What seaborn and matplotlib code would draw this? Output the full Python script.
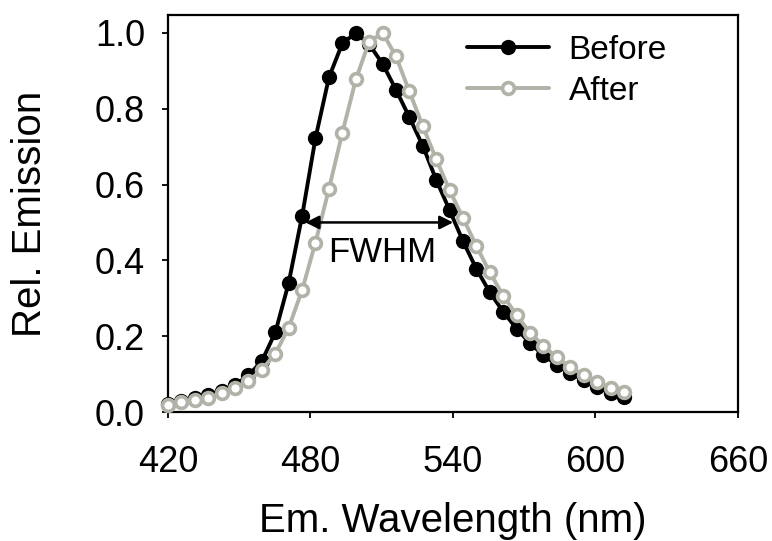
import matplotlib
matplotlib.use("Agg")
import matplotlib.pyplot as plt
import seaborn as sns
import pandas as pd

wavelength = [420.0, 425.6, 431.3, 436.9, 442.6, 448.2, 453.9, 459.5, 465.2, 470.8,
              476.5, 482.1, 487.8, 493.4, 499.1, 504.7, 510.4, 516.0, 521.6, 527.3,
              532.9, 538.6, 544.2, 549.9, 555.5, 561.2, 566.8, 572.5, 578.1, 583.8,
              589.4, 595.1, 600.7, 606.4, 612.0]
before = [0.022, 0.030, 0.037, 0.045, 0.056, 0.071, 0.097, 0.134, 0.210, 0.340,
          0.518, 0.722, 0.883, 0.972, 1.000, 0.970, 0.918, 0.850, 0.778, 0.702,
          0.613, 0.532, 0.451, 0.377, 0.316, 0.264, 0.220, 0.181, 0.150, 0.124,
          0.102, 0.084, 0.066, 0.051, 0.039]
after = [0.019, 0.026, 0.031, 0.038, 0.049, 0.063, 0.082, 0.111, 0.154, 0.222,
         0.322, 0.447, 0.589, 0.736, 0.877, 0.977, 1.000, 0.938, 0.846, 0.754,
         0.667, 0.585, 0.512, 0.438, 0.368, 0.307, 0.255, 0.209, 0.174, 0.144,
         0.118, 0.098, 0.080, 0.063, 0.052]
series_names = ["Before", "After"]
x_ticks = [420, 480, 540, 600, 660]
y_ticks = [0.0, 0.2, 0.4, 0.6, 0.8, 1.0]
fwhm_left, fwhm_right, half_max = 477.9, 540.1, 0.5
fwhm_label = "FWHM"

sns.set_style("ticks")
plt.rcParams["font.family"] = ["Liberation Sans", "DejaVu Sans"]
plt.rcParams["text.color"] = "black"
plt.rcParams["axes.labelcolor"] = "black"

df_before = pd.DataFrame({"wl": wavelength, "val": before})
df_after = pd.DataFrame({"wl": wavelength, "val": after})

fig = plt.figure(figsize=(7.72, 5.41), dpi=100)
ax = fig.add_axes([0.2176, 0.2384, 0.7383, 0.7338])

grey = "#b2b2a8"
sns.lineplot(data=df_before, x="wl", y="val", ax=ax, color="black", lw=2.8,
             marker="o", markersize=11, markeredgewidth=0, markerfacecolor="black",
             label=series_names[0], sort=False, estimator=None, clip_on=False, zorder=3)
sns.lineplot(data=df_after, x="wl", y="val", ax=ax, color=grey, lw=2.8,
             marker="o", markersize=8.5, markeredgewidth=2.6, markerfacecolor="white",
             markeredgecolor=grey, label=series_names[1], sort=False, estimator=None,
             clip_on=False, zorder=4)

ax.annotate("", xy=(fwhm_right, half_max), xytext=(fwhm_left, half_max),
            arrowprops=dict(arrowstyle="<|-|>", color="black", lw=1.8,
                            mutation_scale=20, shrinkA=0, shrinkB=0), zorder=5)
ax.text(487.5, 0.396, fwhm_label, fontsize=25, ha="left", va="baseline", zorder=6)

ax.set_xlim(420, 660)
ax.set_ylim(0, 1.047)
ax.set_xticks(x_ticks)
ax.set_yticks(y_ticks)
ax.set_yticklabels([f"{v:.1f}" for v in y_ticks])
ax.tick_params(axis="both", direction="out", length=4.5, width=1.3, labelsize=26,
               color="black", labelcolor="black")
ax.tick_params(axis="x", pad=19)
ax.tick_params(axis="y", pad=12)
for s in ax.spines.values():
    s.set_visible(True)
    s.set_linewidth(1.6)
    s.set_color("black")

ax.set_xlabel("Em. Wavelength (nm)", fontsize=29, labelpad=16)
ax.set_ylabel("Rel. Emission", fontsize=29, labelpad=33)

leg = ax.legend(loc="upper left", bbox_to_anchor=(0.5246, 0.95), frameon=False,
                fontsize=24, handlelength=2.45, handletextpad=0.6, labelspacing=0.3,
                borderpad=0, borderaxespad=0)
for t in leg.get_texts():
    t.set_color("black")

fig.savefig("out.png", dpi=100)
